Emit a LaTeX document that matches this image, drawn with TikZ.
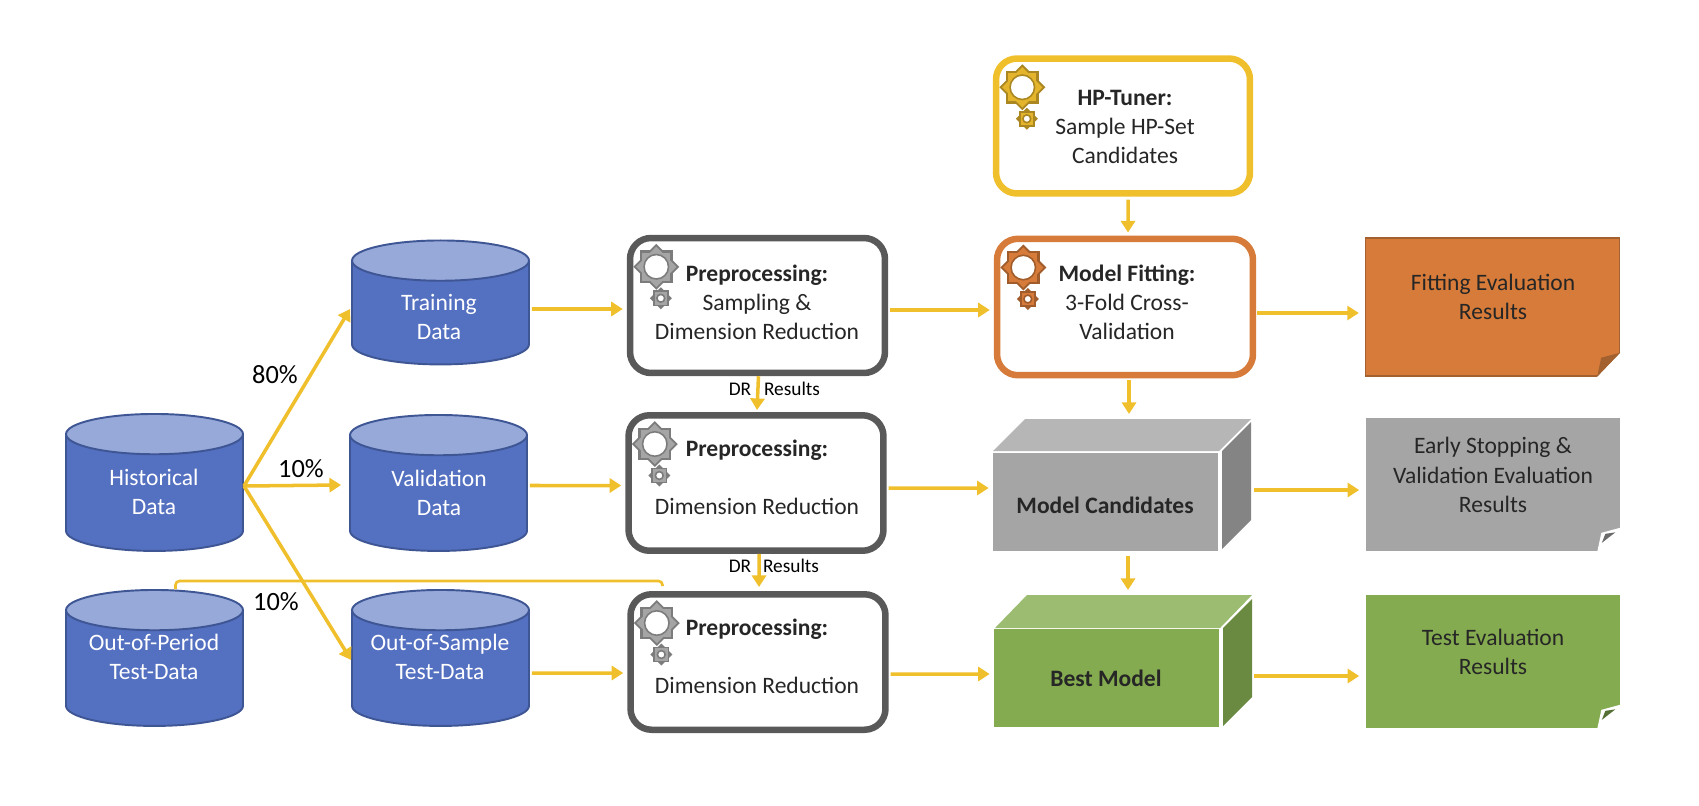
\documentclass[tikz,border=0pt]{standalone}
\usepackage{fontspec}
\usepackage{tikz}
\usetikzlibrary{shapes.geometric,arrows.meta}
\setmainfont{Carlito}
\definecolor{flowgold}{HTML}{F0BF2C}
\definecolor{dbblue}{HTML}{5470C0}
\definecolor{dbtop}{HTML}{97A9D9}
\definecolor{dbline}{HTML}{3F5695}
\definecolor{darktxt}{HTML}{262626}
\definecolor{ringgray}{HTML}{595959}
\definecolor{hpgold}{HTML}{E3B42C}
\definecolor{fitorange}{HTML}{D67B39}
\definecolor{fitdark}{HTML}{A2612F}
\definecolor{midgray}{HTML}{A5A5A5}
\definecolor{sidegray}{HTML}{848484}
\definecolor{topgray}{HTML}{B6B6B6}
\definecolor{midgreen}{HTML}{84AB50}
\definecolor{sidegreen}{HTML}{6A8A41}
\definecolor{topgreen}{HTML}{9CBC72}
\tikzset{
  db/.style = {cylinder, shape border rotate=90, aspect=0.29, draw=dbline, line width=1.1pt,
    cylinder uses custom fill, cylinder body fill=dbblue, cylinder end fill=dbtop,
    minimum width=3.54cm, align=center, inner sep=0pt},
  dbtxt/.style = {align=center, text=white, inner sep=0pt},
  procbox/.style = {draw=ringgray, fill=white, line width=3.7pt, rounded corners=0.42cm,
    minimum width=5.1cm, inner sep=0pt},
  boxtxt/.style = {align=center, text=darktxt, inner sep=0pt},
  small/.style = {font=\fontsize{11}{12}\selectfont, inner sep=0pt},
  pct/.style = {font=\fontsize{15}{16}\selectfont, inner sep=0pt},
  flow/.style = {draw=flowgold, line width=2pt, -{Triangle[length=6.6pt,width=8pt]}},
  sheet/.style = {draw=none, minimum width=5.08cm, inner sep=0pt, align=center, text=darktxt},
  gear/.pic = {
    \fill[#1!75!black] (-1,-1) rectangle (1,1);
    \fill[#1!75!black] (0,-1.41) -- (1.41,0) -- (0,1.41) -- (-1.41,0) -- cycle;
    \fill[#1] (-.87,-.87) rectangle (.87,.87);
    \fill[#1] (0,-1.24) -- (1.24,0) -- (0,1.24) -- (-1.24,0) -- cycle;
    \draw[#1!75!black, fill=white, line width=.9pt] (0,0) circle (.75);
  },
  smallgear/.pic = {
    \fill[#1!75!black] (-1,-1) rectangle (1,1);
    \fill[#1!75!black] (0,-1.41) -- (1.41,0) -- (0,1.41) -- (-1.41,0) -- cycle;
    \fill[#1] (-.8,-.8) rectangle (.8,.8);
    \draw[#1!75!black, fill=white, line width=.9pt] (0,0) circle (.5);
  }
}
\newcommand{\gears}[2]{% box name, colour
  \pic[scale=16.3] at ([shift={(29.5,32)}]#1.north west) {gear=#2};
  \pic[scale=7.8] at ([shift={(34,63.5)}]#1.north west) {smallgear=#2};
}
\newcommand{\dbroom}{\phantom{Out-of-Sample}\\\phantom{Xy}}
\begin{document}
\begin{tikzpicture}[x=0.02cm,y=-0.02cm,font=\fontsize{13.4}{16.6}\selectfont]
\useasboundingbox (0,0) rectangle (1699,805);

% data stores
\node[db, minimum height=2.74cm] (hist) at (154.5,493) {\dbroom};
\node[db, minimum height=2.48cm] (train) at (440.5,313) {\dbroom};
\node[db, minimum height=2.72cm] (valid) at (438.5,493.5) {\dbroom};
\node[db, minimum height=2.72cm] (period) at (154.5,668.5) {\dbroom};
\node[db, minimum height=2.72cm] (sample) at (440.5,668.5) {\dbroom};
\node[dbtxt] (histtxt) at (154,491.5) {Historical\\Data};
\node[dbtxt] (traintxt) at (439,317) {Training\\Data};
\node[dbtxt] (validtxt) at (439,492.5) {Validation\\Data};
\node[dbtxt] (periodtxt) at (154,657) {Out-of-Period\\Test-Data};
\node[dbtxt] (sampletxt) at (440,657) {Out-of-Sample\\Test-Data};

% preprocessing
\node[procbox, minimum height=2.7cm] (prep1) at (757.5,305.5) {};
\node[procbox, minimum height=2.71cm] (prep2) at (756,483) {};
\node[procbox, minimum height=2.71cm] (prep3) at (758,662) {};
\node[boxtxt] (prep1txt) at (757,302) {\textbf{Preprocessing:}\\Sampling \&\\Dimension Reduction};
\node[boxtxt] (prep2txt) at (757,477) {\textbf{Preprocessing:}\\[16.6pt]Dimension Reduction};
\node[boxtxt] (prep3txt) at (757,656) {\textbf{Preprocessing:}\\[16.6pt]Dimension Reduction};

% tuner and fitting
\node[procbox, draw=flowgold, minimum width=5.08cm, minimum height=2.7cm] (tuner) at (1123,126) {};
\node[procbox, draw=fitorange, minimum width=5.12cm, minimum height=2.73cm] (fit) at (1125,307) {};
\node[boxtxt] (tunertxt) at (1125,127) {\textbf{HP-Tuner:}\\Sample HP-Set\\Candidates};
\node[boxtxt] (fittxt) at (1127,302) {\textbf{Model Fitting:}\\3-Fold Cross-\\Validation};

% model boxes
\fill[topgray] (993,451) -- (1025,419) -- (1251,419) -- (1219,451) -- cycle;
\fill[sidegray] (1222,451) -- (1251,422) -- (1251,520) -- (1222,549) -- cycle;
\node[fill=midgray, minimum width=4.5cm, minimum height=1.96cm, inner sep=0pt] (cand) at (1105.5,502) {};
\node[boxtxt] (candtxt) at (1105,505) {\textbf{Model Candidates}};
\fill[topgreen] (995,628) -- (1027,595) -- (1252,595) -- (1220,628) -- cycle;
\fill[sidegreen] (1223,628) -- (1252,599) -- (1252,697) -- (1223,726) -- cycle;
\node[fill=midgreen, minimum width=4.5cm, minimum height=1.96cm, inner sep=0pt] (best) at (1106.5,678) {};
\node[boxtxt] (besttxt) at (1106,678) {\textbf{Best Model}};

% result sheets
\node[sheet, fill=fitorange, draw=fitdark, line width=.8pt, minimum height=2.76cm] (fitres) at (1492.5,307) {};
\node[boxtxt] (fitrestxt) at (1493,297) {Fitting Evaluation\\Results};
\fill[white] (fitres.south east) ++(2,-26) -- ++(0,28) -- ++(-27,0) -- cycle;
\fill[fitdark] (fitres.south east) ++(-23,0) -- ++(4,-19) -- ++(19,-5) -- cycle;
\node[sheet, fill=midgray, minimum height=2.66cm] (candres) at (1492.5,484.5) {};
\node[boxtxt] (candrestxt) at (1493,475) {Early Stopping \&\\Validation Evaluation\\Results};
\fill[white] (candres.south east) ++(0,-23.5) -- ++(-18.5,5) -- ++(-4,18.5) -- ++(22.5,0) -- cycle;
\fill[midgray!65!black] (candres.south east) ++(-18,-8.5) -- ++(3.5,-9) -- ++(10,-1.5) -- cycle;
\node[sheet, fill=midgreen, minimum height=2.66cm] (bestres) at (1492.5,661.5) {};
\node[boxtxt] (bestrestxt) at (1493,652) {Test Evaluation\\Results};
\fill[white] (bestres.south east) ++(0,-23.5) -- ++(-18.5,5) -- ++(-4,18.5) -- ++(22.5,0) -- cycle;
\fill[midgreen!65!black] (bestres.south east) ++(-18,-8.5) -- ++(3.5,-9) -- ++(10,-1.5) -- cycle;

% gears
\gears{prep1}{midgray}
\gears{prep2}{midgray}
\gears{prep3}{midgray}
\gears{tuner}{hpgold}
\gears{fit}{fitorange}

% connectors
\draw[flow] ([yshift=0.14cm]hist.east) -- ([yshift=0.08cm,xshift=-0.02cm]train.west);
\draw[flow] ([yshift=0.14cm]hist.east) -- ([yshift=0.17cm,xshift=-0.16cm]valid.west);
\draw[flow] ([yshift=0.14cm]hist.east) -- ([yshift=0.17cm]sample.west);
\draw[flow] ([yshift=0.08cm,xshift=0.04cm]train.east) -- ([yshift=-0.07cm,xshift=-0.08cm]prep1.west);
\draw[flow] ([yshift=0.16cm,xshift=0.04cm]valid.east) -- ([yshift=-0.05cm,xshift=-0.08cm]prep2.west);
\draw[flow] ([yshift=-0.09cm,xshift=0.04cm]sample.east) -- ([yshift=-0.22cm,xshift=-0.08cm]prep3.west);
\draw[flow] ([yshift=-0.09cm,xshift=0.04cm]prep1.east) -- ([yshift=-0.06cm,xshift=-0.08cm]fit.west);
\draw[flow] ([yshift=-0.10cm,xshift=0.04cm]prep2.east) -- ([xshift=-0.08cm]cand.west |- 0,488);
\draw[flow] ([yshift=-0.24cm,xshift=0.04cm]prep3.east) -- ([xshift=-0.08cm]best.west |- 0,674);
\draw[flow] ([yshift=-0.12cm,xshift=0.02cm]fit.east) -- ([yshift=-0.12cm,xshift=-0.12cm]fitres.west);
\draw[flow] (1254,490) -- ([xshift=-0.12cm]candres.west |- 0,490);
\draw[flow] (1254,676) -- ([xshift=-0.12cm]bestres.west |- 0,676);
\draw[flow] ([yshift=-0.06cm,xshift=0.10cm]tuner.south) -- ([yshift=0.06cm,xshift=0.06cm]fit.north);
\draw[flow] ([yshift=-0.04cm,xshift=0.08cm]fit.south) -- ([xshift=0.08cm]fit.south |- 0,414);
\draw[flow] ([yshift=-0.10cm,xshift=0.45cm]cand.south) -- ([xshift=0.45cm]cand.south |- 0,590);
\draw[flow] ([xshift=0.02cm]prep1.south) -- ([xshift=0.02cm,yshift=0.04cm]prep2.north);
\draw[flow] ([xshift=0.06cm]prep2.south) -- ([xshift=0.02cm,yshift=0.08cm]prep3.north);
\draw[flowgold, line width=1.5pt, rounded corners=0.08cm] ([xshift=0.42cm]period.north) -- ++(0,-8) -- ++(487,0) -- ++(0,5);

% labels
\node[pct] (p80) at (275,375) {80\%};
\node[pct] (p10a) at (301,469) {10\%};
\node[pct] (p10b) at (276,602) {10\%};
\node[small] (dr1) at (740,389) {DR};
\node[small] (res1) at (792,389) {Results};
\node[small] (dr2) at (740,566) {DR};
\node[small] (res2) at (791,566) {Results};
\end{tikzpicture}
\end{document}
